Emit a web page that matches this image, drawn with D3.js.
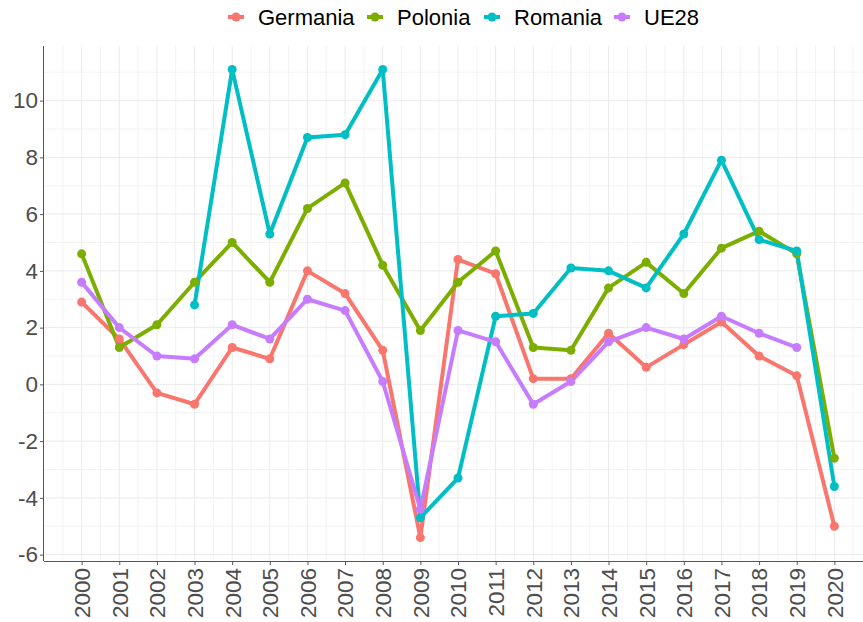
<!DOCTYPE html>
<html>
<head>
<meta charset="utf-8">
<script src="https://cdn.jsdelivr.net/npm/d3@7"></script>
<style>
    body { margin: 0; background: #fff; }
    svg { display: block; font-family: "Liberation Sans", Arial, sans-serif; }
    .grid line { stroke: #ebebeb; }
    .grid .minor { stroke: #f3f3f3; }
    .axis text { fill: #4d4d4d; font-size: 22.5px; }
    .axis path, .axis line { stroke: #555; }
</style>
</head>
<body>
<div id="chart"></div>
<script>

// Years on the x axis
const years = d3.range(2000, 2021);

// Series values (null = no data)
const germania = [2.9, 1.6, -0.3, -0.7, 1.3, 0.9, 4.0, 3.2, 1.2, -5.4, 4.4, 3.9, 0.2, 0.2, 1.8, 0.6, 1.4, 2.2, 1.0, 0.3, -5.0];
const polonia  = [4.6, 1.3, 2.1, 3.6, 5.0, 3.6, 6.2, 7.1, 4.2, 1.9, 3.6, 4.7, 1.3, 1.2, 3.4, 4.3, 3.2, 4.8, 5.4, 4.6, -2.6];
const romania  = [null, null, null, 2.8, 11.1, 5.3, 8.7, 8.8, 11.1, -4.7, -3.3, 2.4, 2.5, 4.1, 4.0, 3.4, 5.3, 7.9, 5.1, 4.7, -3.6];
const ue28     = [3.6, 2.0, 1.0, 0.9, 2.1, 1.6, 3.0, 2.6, 0.1, -4.4, 1.9, 1.5, -0.7, 0.1, 1.5, 2.0, 1.6, 2.4, 1.8, 1.3, null];

const seriesNames = ["Germania", "Polonia", "Romania", "UE28"];
const colors = ["#F8766D", "#7CAE00", "#00BFC4", "#C77CFF"];
const yTicks = [-6, -4, -2, 0, 2, 4, 6, 8, 10];

const series = [germania, polonia, romania, ue28].map((vals, i) => ({
    name: seriesNames[i],
    color: colors[i],
    values: vals.map((v, j) => ({ year: years[j], value: v })).filter(d => d.value !== null)
}));

const width = 863, height = 622;
const margin = { top: 46, right: -9, bottom: 61, left: 44 };
const xwidth = width - margin.left - margin.right;
const yheight = height - margin.top - margin.bottom;

const svg = d3.select("#chart").append("svg")
    .attr("width", width)
    .attr("height", height);

// ggplot-like 5% expansion
const allVals = series.flatMap(s => s.values.map(d => d.value));
const yMin = d3.min(allVals), yMax = d3.max(allVals);
const yPad = (yMax - yMin) * 0.05;

const x = d3.scaleLinear().domain([1999, 2021]).range([0, xwidth]);
const y = d3.scaleLinear().domain([yMin - yPad, yMax + yPad]).range([yheight, 0]);

const g = svg.append("g")
    .attr("transform", "translate(" + margin.left + "," + margin.top + ")");

// Grid lines
const grid = g.append("g").attr("class", "grid");
const xMinor = d3.range(1999.5, 2021, 1);
const yMinor = [-5, -3, -1, 1, 3, 5, 7, 9, 11];

grid.selectAll("line.minor-x").data(xMinor).enter().append("line")
    .attr("class", "minor")
    .attr("x1", d => x(d)).attr("x2", d => x(d))
    .attr("y1", 0).attr("y2", yheight);
grid.selectAll("line.minor-y").data(yMinor).enter().append("line")
    .attr("class", "minor")
    .attr("x1", 0).attr("x2", xwidth)
    .attr("y1", d => y(d)).attr("y2", d => y(d));
grid.selectAll("line.major-x").data(years).enter().append("line")
    .attr("x1", d => x(d)).attr("x2", d => x(d))
    .attr("y1", 0).attr("y2", yheight);
grid.selectAll("line.major-y").data(yTicks).enter().append("line")
    .attr("x1", 0).attr("x2", xwidth)
    .attr("y1", d => y(d)).attr("y2", d => y(d));

// Lines
const line = d3.line()
    .x(d => x(d.year))
    .y(d => y(d.value));

g.selectAll("path.series").data(series).enter().append("path")
    .attr("class", "series")
    .attr("fill", "none")
    .attr("stroke", d => d.color)
    .attr("stroke-width", 4)
    .attr("stroke-linejoin", "round")
    .attr("d", d => line(d.values));

// Points
g.selectAll("g.points").data(series).enter().append("g")
    .attr("class", "points")
    .attr("fill", d => d.color)
    .selectAll("circle")
    .data(d => d.values)
    .enter().append("circle")
    .attr("r", 4.5)
    .attr("cx", d => x(d.year))
    .attr("cy", d => y(d.value));

// Axes
const xAxis = d3.axisBottom(x).tickValues(years).tickFormat(d3.format("d")).tickSize(4).tickSizeOuter(0);
// plain hyphen for negatives, as in the original
const yAxis = d3.axisLeft(y).tickValues(yTicks).tickFormat(d => String(d)).tickSize(4).tickSizeOuter(0);

const gx = g.append("g")
    .attr("class", "x axis")
    .attr("transform", "translate(0," + yheight + ")")
    .call(xAxis);
gx.select(".domain").attr("d", "M0,0.5H" + xwidth);
gx.selectAll("text")
    .attr("transform", "rotate(-90)")
    .attr("x", -7)
    .attr("y", 0)
    .attr("dy", "0.35em")
    .style("text-anchor", "end");

const gy = g.append("g")
    .attr("class", "y axis")
    .call(yAxis);
gy.select(".domain").attr("d", "M-0.5,0V" + yheight);
gy.selectAll("text").attr("x", -6);

// Legend
const legend = svg.append("g").attr("class", "legend");
const legendPos = [228, 367, 484, 614];
series.forEach((s, i) => {
    const lg = legend.append("g").attr("transform", "translate(" + legendPos[i] + ",17)");
    lg.append("line")
        .attr("x1", 0).attr("x2", 16)
        .attr("y1", 0).attr("y2", 0)
        .attr("stroke", s.color).attr("stroke-width", 4);
    lg.append("circle").attr("cx", 8).attr("cy", 0).attr("r", 4.5).attr("fill", s.color);
    lg.append("text")
        .attr("x", 30).attr("y", 0).attr("dy", "0.35em")
        .style("font-size", "22px")
        .attr("fill", "#000")
        .text(s.name);
});

</script>
</body>
</html>
